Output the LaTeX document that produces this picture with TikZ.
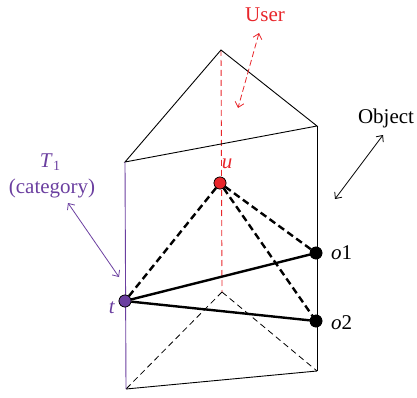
\documentclass[tikz,border=0pt]{standalone}
\usepackage{fontspec}
\setmainfont{Liberation Serif}
\usetikzlibrary{arrows.meta}
\definecolor{ured}{HTML}{E8262B}
\definecolor{tpurple}{HTML}{6B3FA0}
\begin{document}
\begin{tikzpicture}[x=1pt,y=-1pt,
  edge/.style={line width=0.9pt, black},
  thinedge/.style={line width=0.8pt, black, dash pattern=on 6pt off 4pt},
  rel/.style={line width=2.4pt, black},
  reldash/.style={line width=2.4pt, black, dash pattern=on 7pt off 4pt},
  dot/.style={circle, draw=black, line width=0.6pt, minimum size=12pt, inner sep=0pt},
  lbl/.style={font=\fontsize{21}{24}\selectfont, inner sep=1pt},
  dbl/.style={line width=0.8pt, {Straight Barb[length=5pt,width=9pt]}-{Straight Barb[length=5pt,width=9pt]}}
]
\useasboundingbox (0,0) rectangle (417,398);
% prism vertices
\coordinate (TB) at (221,50);
\coordinate (TL) at (125,162);
\coordinate (TR) at (317,126);
\coordinate (BB) at (222,292);
\coordinate (BL) at (126,389);
\coordinate (BR) at (317,371);
% hidden bottom edges
\draw[thinedge] (BB) -- (BL);
\draw[thinedge] (BB) -- (BR);
% back vertical edge (user axis)
\draw[ured, line width=0.9pt, dash pattern=on 6pt off 4pt] (TB) -- (BB);
% visible edges
\draw[edge] (TL) -- (TB) -- (TR) -- cycle;
\draw[edge] (BL) -- (BR);
\draw[edge] (TR) -- (BR);
\draw[tpurple, line width=0.9pt] (TL) -- (BL);
% points
\node[dot, fill=ured] (u) at (220,183) {};
\node[dot, fill=black] (o1) at (316,253) {};
\node[dot, fill=black] (o2) at (316,321) {};
\node[dot, fill=tpurple] (t) at (125,301) {};
% relations
\draw[reldash] (u) -- (t);
\draw[reldash] (u) -- (o1);
\draw[reldash] (u) -- (o2);
\draw[rel] (t) -- (o1);
\draw[rel] (t) -- (o2);
\node[dot, fill=ured] at (u) {};
\node[dot, fill=black] at (o1) {};
\node[dot, fill=black] at (o2) {};
\node[dot, fill=tpurple] at (t) {};
% labels
\node[lbl, text=ured] (ul) at (227,164) {\textit{u}};
\node[lbl, anchor=west] (o1l) at (330,253) {\textit{o}1};
\node[lbl, anchor=west] (o2l) at (330,323) {\textit{o}2};
\node[lbl, text=tpurple] (tl) at (112,308) {\textit{t}};
\node[lbl, text=ured] (user) at (265,15) {User};
\node[lbl] (obj) at (386,118) {Object};
\node[lbl, text=tpurple] (T1) at (50,162) {\textit{T}\kern0.5pt\raisebox{-0.25ex}{\fontsize{14}{16}\selectfont 1}};
\node[lbl, text=tpurple] (cat) at (52,188) {(category)};
% double arrows
\coordinate (ua1) at (259,33);
\coordinate (ua2) at (238,108);
\draw[dbl, ured, dash pattern=on 6pt off 3pt] (ua1) -- (ua2);
\coordinate (oa1) at (383,135);
\coordinate (oa2) at (335,199);
\draw[dbl, black] (oa1) -- (oa2);
\coordinate (ta1) at (68,203);
\coordinate (ta2) at (119,277);
\draw[dbl, tpurple] (ta1) -- (ta2);
\end{tikzpicture}
\end{document}
